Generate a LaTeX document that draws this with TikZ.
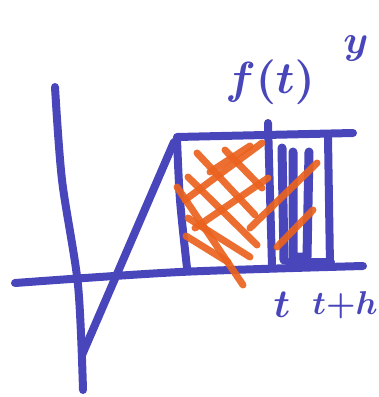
\documentclass[tikz,border=0pt]{standalone}
\usepackage{amsmath,amssymb}
\usepackage{tikz}
\definecolor{penblue}{RGB}{72,70,186}
\definecolor{penorange}{RGB}{234,98,30}
\tikzset{
  pen/.style={draw=penblue,line width=8pt,line cap=round,line join=round},
  hatch/.style={draw=penorange,line width=7pt,line cap=round,opacity=0.92},
  scrawl/.style={text=penblue,inner sep=0pt,font=\boldmath}
}

\begin{document}
\begin{tikzpicture}[x=1pt,y=-1pt]
 \useasboundingbox (0,0) rectangle (379,397);
 \draw[pen] plot[smooth] coordinates {(55,87) (62,180) (78,285) (83,390)};
 \draw[pen] plot[smooth] coordinates {(15,283) (180,272) (363,266)};
 \draw[pen] (82,355) -- (174,142);
 \draw[pen] plot[smooth] coordinates {(177,139) (180,200) (187,268)};
 \draw[pen] (177,137) -- (353,133);
 \draw[pen] (268,123) -- (272,266);
 \draw[pen] (328,137) -- (330,266);
 \draw[pen,line width=9pt] (282,148) -- (284,260);
 \draw[pen,line width=9pt] (293,152) -- (293,257) -- (307,257) -- (309,152);
 \draw[pen] (289,262) -- (331,262);
 \draw[hatch] (185,200) -- (262,143);
 \draw[hatch] (195,228) -- (268,178);
 \draw[hatch] (210,172) -- (250,146);
 \draw[hatch] (250,228) -- (317,163);
 \draw[hatch] (277,247) -- (313,210);
 \draw[hatch] (197,153) -- (255,215);
 \draw[hatch] (225,150) -- (262,188);
 \draw[hatch] (188,177) -- (257,245);
 \draw[hatch] (188,218) -- (250,257);
 \draw[hatch] (186,236) -- (228,262);
 \draw[hatch] (177,187) -- (243,285);
 \node[scrawl,scale=4.5] (ft) at (270,82) {$f(t)$};
 \node[scrawl,scale=4] (ylab) at (356,48) {$y$};
 \node[scrawl,scale=4] (tlab) at (282,305) {$t$};
 \node[scrawl,scale=3.3] (thlab) at (345,305) {$t{+}h$};
\end{tikzpicture}
\end{document}
